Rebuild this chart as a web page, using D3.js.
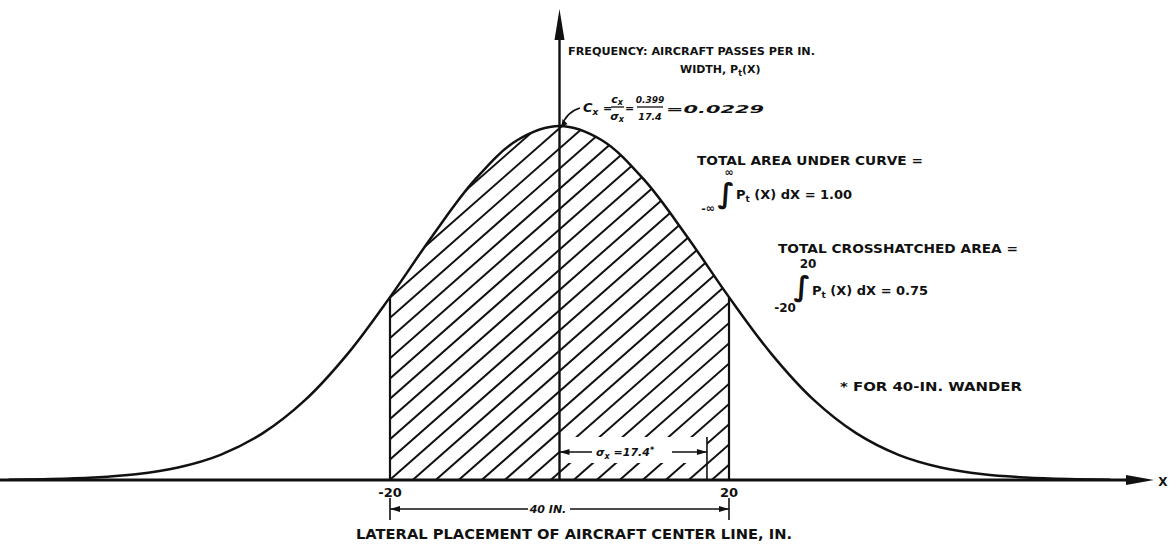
<!DOCTYPE html>
<html>
<head>
<meta charset="utf-8">
<script src="https://cdn.jsdelivr.net/npm/d3@7"></script>
<style>
  body { margin: 0; background: #fff; }
  svg { display: block; }
  text { font-family: "DejaVu Sans", sans-serif; font-weight: bold; fill: #111; }
</style>
</head>
<body>
<div id="chart"></div>
<script>
// Values
var xs = [-65, -60, -55, -50, -45, -40, -35, -30, -25, -20, -15, -10, -5, 0, 5, 10, 15, 20, 25, 30, 35, 40, 45, 50, 55, 60, 65];
var freq = [0.00002, 0.00006, 0.00016, 0.00037, 0.00081, 0.00163, 0.00303, 0.00518, 0.00816, 0.01183, 0.01579, 0.01941, 0.02198, 0.0229,
            0.02198, 0.01941, 0.01579, 0.01183, 0.00816, 0.00518, 0.00303, 0.00163, 0.00081, 0.00037, 0.00016, 0.00006, 0.00002];
var band = [-20, 20];
var sigma = 17.4;
var tickLabels = ["-20", "20"];

var width = 1172;
var height = 544;

var x = d3.scaleLinear().domain([-20, 20]).range([390, 729]);
var y = d3.scaleLinear().domain([0, 0.0229]).range([480, 126]);

var data = xs.map(function (d, i) { return [d, freq[i]]; });

var svg = d3.select("#chart")
            .append("svg")
            .attr("width", width)
            .attr("height", height);

var defs = svg.append("defs");

defs.append("clipPath").attr("id", "bandClip")
    .append("rect")
    .attr("x", x(band[0])).attr("y", 0)
    .attr("width", x(band[1]) - x(band[0])).attr("height", y(0));

var area = d3.area()
             .x(function (d) { return x(d[0]); })
             .y0(y(0))
             .y1(function (d) { return y(d[1]); })
             .curve(d3.curveCatmullRom);

var line = d3.line()
             .x(function (d) { return x(d[0]); })
             .y(function (d) { return y(d[1]); })
             .curve(d3.curveCatmullRom);

// mask: area under curve within +-20, minus the blank box behind sigma label
var mask = defs.append("mask").attr("id", "hatchMask")
               .attr("maskUnits", "userSpaceOnUse")
               .attr("x", 0).attr("y", 0).attr("width", width).attr("height", height);
mask.append("path")
    .attr("d", area(data))
    .attr("clip-path", "url(#bandClip)")
    .attr("fill", "#fff");
mask.append("rect")
    .attr("x", x(0)).attr("y", 437)
    .attr("width", x(sigma) - x(0)).attr("height", 26)
    .attr("fill", "#000");

// hatching
var hatch = svg.append("g").attr("mask", "url(#hatchMask)")
               .attr("stroke", "#111").attr("stroke-width", 2);
d3.range(x(band[0]) - 420, x(band[1]) + 10, 23).forEach(function (px) {
    hatch.append("line")
         .attr("x1", px).attr("y1", y(0) + 5)
         .attr("x2", px + 420).attr("y2", y(0) + 5 - 420 * 0.88);
});

// curve
svg.append("path")
   .attr("d", line(data))
   .attr("fill", "none")
   .attr("stroke", "#111")
   .attr("stroke-width", 2.5);

// verticals at +-20
band.forEach(function (b) {
    svg.append("line")
       .attr("x1", x(b)).attr("x2", x(b))
       .attr("y1", y(0)).attr("y2", y(freq[xs.indexOf(b)]))
       .attr("stroke", "#111").attr("stroke-width", 2.2);
});

// x axis with arrow
svg.append("line")
   .attr("x1", 0).attr("x2", 1135)
   .attr("y1", y(0)).attr("y2", y(0))
   .attr("stroke", "#111").attr("stroke-width", 2.8);
svg.append("path")
   .attr("d", "M1126," + (y(0) - 5) + "L1154," + y(0) + "L1126," + (y(0) + 5) + "Z")
   .attr("fill", "#111");
svg.append("text").attr("x", 1163).attr("y", y(0) + 6)
   .attr("text-anchor", "middle").attr("font-size", 12).text("X");

// y axis with arrow
svg.append("line")
   .attr("x1", x(0)).attr("x2", x(0))
   .attr("y1", y(0)).attr("y2", 30)
   .attr("stroke", "#111").attr("stroke-width", 2.4);
svg.append("path")
   .attr("d", "M" + (x(0) - 5) + ",40L" + x(0) + ",9L" + (x(0) + 5) + ",40Z")
   .attr("fill", "#111");

// tick labels
tickLabels.forEach(function (t, i) {
    svg.append("text")
       .attr("x", x(band[i])).attr("y", 497)
       .attr("text-anchor", "middle").attr("font-size", 13)
       .text(t);
});

// 40 IN. dimension
var dimY = 509;
[x(band[0]), x(band[1])].forEach(function (px) {
    svg.append("line").attr("x1", px).attr("x2", px).attr("y1", 498).attr("y2", 520)
       .attr("stroke", "#111").attr("stroke-width", 1.6);
});
svg.append("line").attr("x1", x(band[0])).attr("x2", 528).attr("y1", dimY).attr("y2", dimY)
   .attr("stroke", "#111").attr("stroke-width", 1.5);
svg.append("line").attr("x1", 570).attr("x2", x(band[1])).attr("y1", dimY).attr("y2", dimY)
   .attr("stroke", "#111").attr("stroke-width", 1.5);
svg.append("path").attr("d", "M" + x(band[0]) + "," + dimY + "l10,-3l0,6Z").attr("fill", "#111");
svg.append("path").attr("d", "M" + x(band[1]) + "," + dimY + "l-10,-3l0,6Z").attr("fill", "#111");
svg.append("text").attr("x", 548).attr("y", 513)
   .attr("text-anchor", "middle").attr("font-size", 11).attr("font-style", "italic")
   .text("40 IN.");

// sigma dimension
var sY = 452;
svg.append("line").attr("x1", x(sigma)).attr("x2", x(sigma)).attr("y1", 437).attr("y2", y(0))
   .attr("stroke", "#111").attr("stroke-width", 1.6);
svg.append("line").attr("x1", x(0)).attr("x2", 592).attr("y1", sY).attr("y2", sY)
   .attr("stroke", "#111").attr("stroke-width", 1.5);
svg.append("line").attr("x1", 672).attr("x2", x(sigma)).attr("y1", sY).attr("y2", sY)
   .attr("stroke", "#111").attr("stroke-width", 1.5);
svg.append("path").attr("d", "M" + x(0) + "," + sY + "l10,-3l0,6Z").attr("fill", "#111");
svg.append("path").attr("d", "M" + x(sigma) + "," + sY + "l-10,-3l0,6Z").attr("fill", "#111");
var sLab = svg.append("text").attr("x", 596).attr("y", 456)
              .attr("font-size", 11).attr("font-style", "italic");
sLab.append("tspan").text("σ");
sLab.append("tspan").attr("dy", 3).attr("font-size", 8).text("x");
sLab.append("tspan").attr("dy", -3).text(" =17.4");
sLab.append("tspan").attr("dy", -3).attr("font-size", 8).text("*");

// axis title
svg.append("text").attr("x", 356).attr("y", 539)
   .attr("font-size", 13.5).attr("textLength", 436).attr("lengthAdjust", "spacingAndGlyphs")
   .text("LATERAL PLACEMENT OF AIRCRAFT CENTER LINE, IN.");

// y label
svg.append("text").attr("x", 568).attr("y", 55)
   .attr("font-size", 11).attr("textLength", 247).attr("lengthAdjust", "spacingAndGlyphs")
   .text("FREQUENCY: AIRCRAFT PASSES PER IN.");
var wl = svg.append("text").attr("x", 680).attr("y", 73).attr("font-size", 11);
wl.append("tspan").text("WIDTH, P");
wl.append("tspan").attr("dy", 3).attr("font-size", 8).text("t");
wl.append("tspan").attr("dy", -3).text("(X)");

// Cx annotation
svg.append("path")
   .attr("d", "M" + (x(0) + 2) + "," + (y(0.0229) + 1) + "Q566,112 580,108")
   .attr("fill", "none").attr("stroke", "#111").attr("stroke-width", 1.6);
svg.append("path")
   .attr("d", "M" + (x(0) + 2) + "," + (y(0.0229) + 1) + "l1,-8l5,5Z")
   .attr("fill", "#111");
var cx = svg.append("text").attr("x", 583).attr("y", 112)
            .attr("font-size", 13).attr("font-style", "italic");
cx.append("tspan").text("C");
cx.append("tspan").attr("dy", 3).attr("font-size", 9).text("x");
svg.append("text").attr("x", 603).attr("y", 112).attr("font-size", 11).text("=");
svg.append("text").attr("x", 617).attr("y", 103).attr("text-anchor", "middle")
   .attr("font-size", 11).attr("font-style", "italic").text("c")
   .append("tspan").attr("dy", 2).attr("font-size", 8).text("x");
svg.append("line").attr("x1", 611).attr("x2", 624).attr("y1", 107).attr("y2", 107)
   .attr("stroke", "#111").attr("stroke-width", 1.3);
svg.append("text").attr("x", 617).attr("y", 120).attr("text-anchor", "middle")
   .attr("font-size", 11).attr("font-style", "italic").text("σ")
   .append("tspan").attr("dy", 2).attr("font-size", 8).text("x");
svg.append("text").attr("x", 625).attr("y", 112).attr("font-size", 11).text("=");
svg.append("text").attr("x", 650).attr("y", 103).attr("text-anchor", "middle")
   .attr("font-size", 9).attr("font-style", "italic").text("0.399");
svg.append("line").attr("x1", 637).attr("x2", 663).attr("y1", 107).attr("y2", 107)
   .attr("stroke", "#111").attr("stroke-width", 1.3);
svg.append("text").attr("x", 650).attr("y", 120).attr("text-anchor", "middle")
   .attr("font-size", 9.5).attr("font-style", "italic").text("17.4");
svg.append("text").attr("x", 666).attr("y", 113).attr("font-size", 11).attr("font-style", "italic")
   .attr("textLength", 98).attr("lengthAdjust", "spacingAndGlyphs")
   .text("=0.0229");

// total area
svg.append("text").attr("x", 697).attr("y", 165)
   .attr("font-size", 13).attr("textLength", 226).attr("lengthAdjust", "spacingAndGlyphs")
   .text("TOTAL AREA UNDER CURVE =");
svg.append("text").attr("x", 729).attr("y", 176).attr("text-anchor", "middle").attr("font-size", 11).text("∞");
svg.append("text").attr("x", 708).attr("y", 212).attr("text-anchor", "middle").attr("font-size", 11).text("-∞");
svg.append("text").attr("x", 726).attr("y", 203).attr("text-anchor", "middle")
   .attr("font-size", 28).attr("font-weight", "normal").text("∫");
var i1 = svg.append("text").attr("x", 736).attr("y", 199).attr("font-size", 13);
i1.append("tspan").text("P");
i1.append("tspan").attr("dy", 3).attr("font-size", 9).text("t");
i1.append("tspan").attr("dy", -3).text(" (X) dX = 1.00");

// crosshatched area
svg.append("text").attr("x", 778).attr("y", 253)
   .attr("font-size", 13).attr("textLength", 240).attr("lengthAdjust", "spacingAndGlyphs")
   .text("TOTAL CROSSHATCHED AREA =");
svg.append("text").attr("x", 808).attr("y", 268).attr("text-anchor", "middle").attr("font-size", 12).text("20");
svg.append("text").attr("x", 785).attr("y", 312).attr("text-anchor", "middle").attr("font-size", 12).text("-20");
svg.append("text").attr("x", 802).attr("y", 296).attr("text-anchor", "middle")
   .attr("font-size", 28).attr("font-weight", "normal").text("∫");
var i2 = svg.append("text").attr("x", 812).attr("y", 295).attr("font-size", 13);
i2.append("tspan").text("P");
i2.append("tspan").attr("dy", 3).attr("font-size", 9).text("t");
i2.append("tspan").attr("dy", -3).text(" (X) dX = 0.75");

// footnote
svg.append("text").attr("x", 840).attr("y", 391)
   .attr("font-size", 12).attr("textLength", 182).attr("lengthAdjust", "spacingAndGlyphs")
   .text("* FOR 40-IN. WANDER");
</script>
</body>
</html>
